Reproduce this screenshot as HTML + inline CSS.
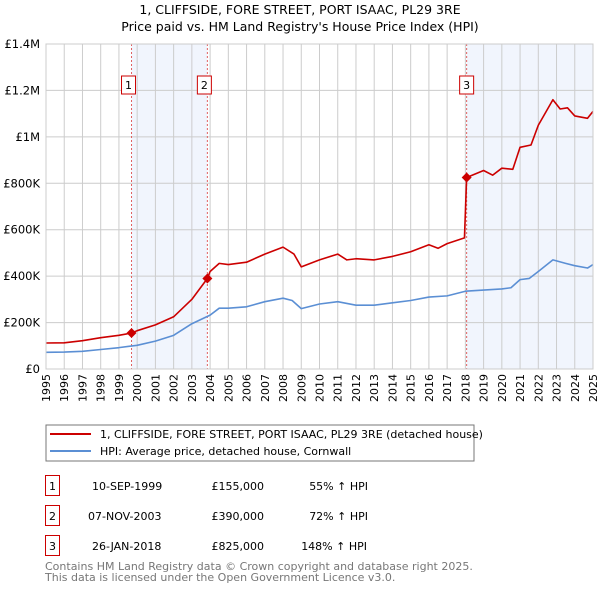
<!DOCTYPE html>
<html><head><meta charset="utf-8"><style>
body{margin:0;background:#fff;font-family:"Liberation Sans","DejaVu Sans",sans-serif}
svg text{font-family:"DejaVu Sans","Liberation Sans",sans-serif}
</style></head><body>
<svg id="chart" width="600" height="590" xmlns="http://www.w3.org/2000/svg">
<text x="300" y="14" text-anchor="middle" font-size="12.5" fill="#000">1, CLIFFSIDE, FORE STREET, PORT ISAAC, PL29 3RE</text>
<text x="300" y="31" text-anchor="middle" font-size="12.5" fill="#000">Price paid vs. HM Land Registry's House Price Index (HPI)</text>
<g id="plot"></g>
<g>
<rect x="46" y="425" width="428" height="36" fill="#fff" stroke="#777"/>
<line x1="50" y1="434" x2="91" y2="434" stroke="#cc0000" stroke-width="2"/>
<text x="100" y="438" font-size="11">1, CLIFFSIDE, FORE STREET, PORT ISAAC, PL29 3RE (detached house)</text>
<line x1="50" y1="451" x2="91" y2="451" stroke="#5b8fd4" stroke-width="2"/>
<text x="100" y="455" font-size="11">HPI: Average price, detached house, Cornwall</text>
</g>
<g font-size="11">
<rect x="45.5" y="475.5" width="14" height="20" fill="#fff" stroke="#cc0000"/><text x="52.5" y="490" text-anchor="middle">1</text>
<text x="92" y="490">10-SEP-1999</text><text x="264" y="490" text-anchor="end">£155,000</text><text x="368" y="490" text-anchor="end">55% ↑ HPI</text>
<rect x="45.5" y="505.5" width="14" height="20" fill="#fff" stroke="#cc0000"/><text x="52.5" y="520" text-anchor="middle">2</text>
<text x="88" y="520">07-NOV-2003</text><text x="264" y="520" text-anchor="end">£390,000</text><text x="368" y="520" text-anchor="end">72% ↑ HPI</text>
<rect x="45.5" y="535.5" width="14" height="20" fill="#fff" stroke="#cc0000"/><text x="52.5" y="550" text-anchor="middle">3</text>
<text x="92" y="550">26-JAN-2018</text><text x="264" y="550" text-anchor="end">£825,000</text><text x="367" y="550" text-anchor="end">148% ↑ HPI</text>
</g>
<text x="45" y="570" font-size="11" fill="#777">Contains HM Land Registry data © Crown copyright and database right 2025.</text>
<text x="45" y="581" font-size="11" fill="#777">This data is licensed under the Open Government Licence v3.0.</text>
</svg>
<script>
const yearTicks=[1995,1996,1997,1998,1999,2000,2001,2002,2003,2004,2005,2006,2007,2008,2009,2010,2011,2012,2013,2014,2015,2016,2017,2018,2019,2020,2021,2022,2023,2024,2025];
const valueTicks=[0,200000,400000,600000,800000,1000000,1200000,1400000];
const valueTickLabels=["£0","£200K","£400K","£600K","£800K","£1M","£1.2M","£1.4M"];
const hpiYears=[1995,1996,1997,1998,1999,2000,2001,2002,2003,2004,2004.5,2005,2006,2007,2008,2008.5,2009,2010,2011,2012,2013,2014,2015,2016,2017,2018,2019,2020,2020.5,2021,2021.5,2022,2022.8,2023.5,2024,2024.7,2025];
const hpiValues=[72000,73000,76000,84000,92000,102000,120000,145000,195000,232000,262000,262000,268000,290000,305000,295000,260000,280000,290000,275000,275000,285000,295000,310000,315000,335000,340000,345000,350000,385000,390000,420000,470000,455000,445000,435000,450000];
const propYears=[1995,1996,1997,1998,1999,1999.7,2000,2001,2002,2003,2003.85,2004,2004.5,2005,2006,2007,2008,2008.6,2009,2010,2011,2011.5,2012,2013,2014,2015,2016,2016.5,2017,2017.95,2018.07,2019,2019.5,2020,2020.6,2021,2021.6,2022,2022.8,2023.2,2023.6,2024,2024.7,2025];
const propValues=[112000,113000,122000,135000,145000,155000,165000,190000,225000,300000,390000,420000,455000,450000,460000,495000,525000,495000,440000,470000,495000,470000,475000,470000,485000,505000,535000,520000,540000,565000,825000,855000,835000,865000,860000,955000,965000,1050000,1160000,1120000,1125000,1090000,1080000,1110000];
const saleLabels=["1","2","3"];
const saleYears=[1999.69,2003.85,2018.07];
const saleValues=[155000,390000,825000];
const shadeStart=[1999.69,2018.07];
const shadeEnd=[2003.85,2025];

const L=46,R=593,T=44,B=369;
const X=y=>L+(y-1995)/30*(R-L);
const Y=v=>B-v/1400000*(B-T);
const NS="http://www.w3.org/2000/svg";
const g=document.getElementById('plot');
function mk(tag,attrs,parent){const e=document.createElementNS(NS,tag);for(const k in attrs)e.setAttribute(k,attrs[k]);(parent||g).appendChild(e);return e;}
for(let i=0;i<shadeStart.length;i++){
 const r=mk('rect',{x:X(shadeStart[i]),y:T,width:X(shadeEnd[i])-X(shadeStart[i]),height:B-T,fill:'#eef3fc',opacity:0.8});
 
 
}
yearTicks.forEach(yr=>{
 const l=mk('line',{x1:X(yr),x2:X(yr),y1:T,y2:B,stroke:'#ccc','stroke-width':1});
 
 
 const tx=X(yr)+4,ty=374;
 const t=mk('text',{x:tx,y:ty,'text-anchor':'end','font-size':11,transform:`rotate(-90 ${tx} ${ty})`});
 t.textContent=yr;
 
 
});
valueTicks.forEach((v,i)=>{
 const l=mk('line',{x1:L,x2:R,y1:Y(v),y2:Y(v),stroke:'#ccc','stroke-width':1});
 
 
 const t=mk('text',{x:L-6,y:Y(v)+4,'text-anchor':'end','font-size':11.5});
 t.textContent=valueTickLabels[i];
 
 
});
saleYears.forEach((yr,i)=>{
 const l=mk('line',{x1:X(yr),x2:X(yr),y1:T,y2:B,stroke:'#e06060','stroke-width':1,'stroke-dasharray':'2,2'});
 
 
 const bx=X(yr)-(i==2?0:3);
 const r=mk('rect',{x:bx-7,y:76,width:14,height:18,fill:'#fff',stroke:'#cc0000'});
 
 
 const t=mk('text',{x:bx,y:89,'text-anchor':'middle','font-size':11});
 t.textContent=saleLabels[i];
 
 
});
function line(xs,vs,color,name){
 const p=mk('polyline',{points:xs.map((x,i)=>X(x)+','+Y(vs[i])).join(' '),fill:'none',stroke:color,'stroke-width':1.6,'stroke-linejoin':'round'});
 
 
}
line(hpiYears,hpiValues,'#5b8fd4','hpi-line');
line(propYears,propValues,'#cc0000','property-line');
saleYears.forEach((yr,i)=>{
 const x=X(yr),y=Y(saleValues[i]);
 const d=mk('polygon',{points:`${x},${y-5} ${x+5},${y} ${x},${y+5} ${x-5},${y}`,fill:'#cc0000'});
 
 
});
const ax=mk('rect',{x:L,y:T,width:R-L,height:B-T,fill:'none',stroke:'#ccc'});


</script>
</body></html>
